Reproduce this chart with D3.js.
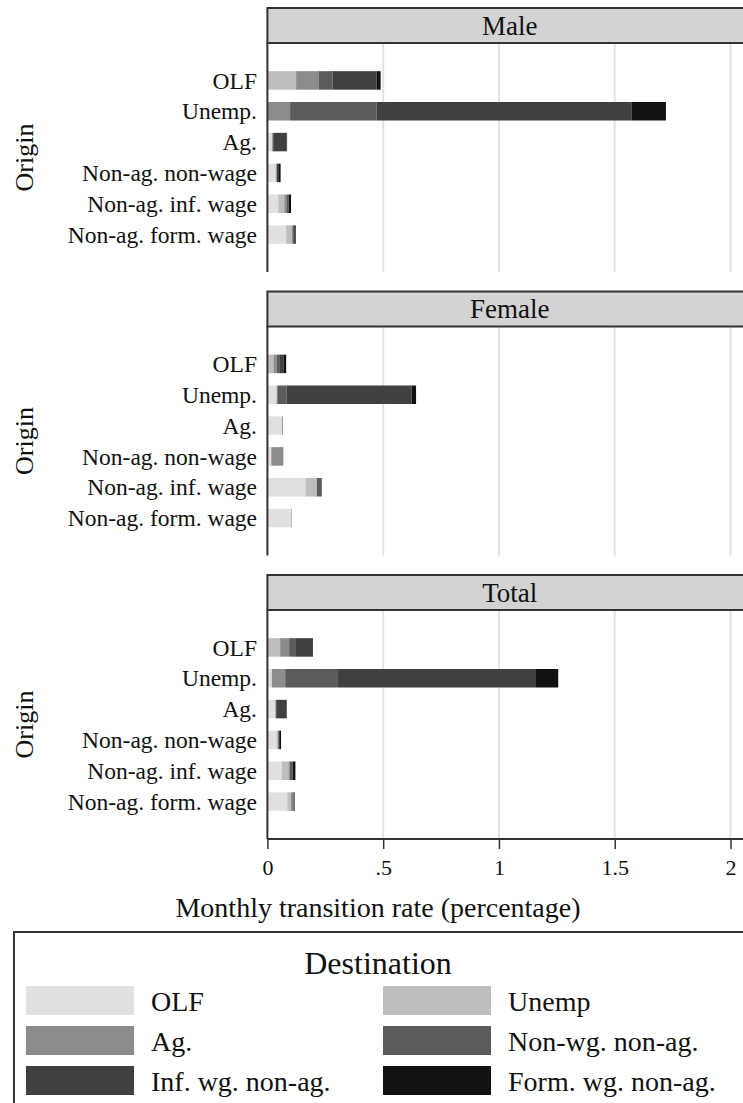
<!DOCTYPE html>
<html>
<head>
<meta charset="utf-8">
<script src="https://cdn.jsdelivr.net/npm/d3@7"></script>
<style>
  body { margin: 0; background: #fff; }
  svg text { font-family: "Liberation Serif", "Times New Roman", serif; fill: #111; }
</style>
</head>
<body>
<svg id="chart" width="743" height="1103"></svg>
<script>
// origins (rows) and destinations (stack order)
var origins = ["OLF", "Unemp.", "Ag.", "Non-ag. non-wage", "Non-ag. inf. wage", "Non-ag. form. wage"];
var destinations = ["OLF", "Unemp", "Ag.", "Non-wg. non-ag.", "Inf. wg. non-ag.", "Form. wg. non-ag."];
var panels = ["Male", "Female", "Total"];
var xTicks = [0, 0.5, 1, 1.5, 2];
var xTickLabels = ["0", ".5", "1", "1.5", "2"];

// monthly transition rates, one row per origin, one column per destination
var maleRates = [
  [0, 0.124, 0.097, 0.060, 0.191, 0.017],
  [0, 0, 0.098, 0.374, 1.100, 0.149],
  [0.018, 0.004, 0, 0.003, 0.058, 0.002],
  [0.035, 0.003, 0.003, 0, 0.006, 0.010],
  [0.047, 0.026, 0.009, 0.010, 0, 0.010],
  [0.081, 0.024, 0.006, 0.004, 0.008, 0]
];
var femaleRates = [
  [0, 0.026, 0.015, 0.010, 0.020, 0.010],
  [0.040, 0, 0.003, 0.040, 0.540, 0.019],
  [0.062, 0.002, 0, 0, 0.002, 0],
  [0.015, 0.002, 0.052, 0, 0, 0],
  [0.165, 0.047, 0.002, 0.020, 0, 0.001],
  [0.102, 0.002, 0, 0, 0.001, 0]
];
var totalRates = [
  [0, 0.055, 0.039, 0.026, 0.074, 0.003],
  [0.019, 0, 0.058, 0.228, 0.855, 0.096],
  [0.033, 0.003, 0, 0.002, 0.045, 0.001],
  [0.040, 0.004, 0.004, 0, 0.003, 0.008],
  [0.062, 0.029, 0.005, 0.014, 0, 0.011],
  [0.086, 0.016, 0.006, 0.005, 0.005, 0]
];
var panelRates = [maleRates, femaleRates, totalRates];

var pal = ["#e0e0e0", "#bebebe", "#8c8c8c", "#5b5b5b", "#404040", "#111111"];

var svg = d3.select("#chart");

var plotLeft = 267.4, plotRight = 752;
var headH = 35, bodyH = 229, gap = 19.5, top0 = 8;

var x = d3.scaleLinear().domain([0, 2]).range([plotLeft, 730.5]);
var color = d3.scaleOrdinal().domain(destinations).range(pal);

panels.forEach(function(name, p) {
  var ht = top0 + p * (headH + bodyH + gap);
  var bt = ht + headH;
  var g = svg.append("g");

  // grid lines
  g.selectAll("line.grid")
    .data(xTicks.slice(1))
    .enter().append("line")
    .attr("x1", d => x(d)).attr("x2", d => x(d))
    .attr("y1", bt).attr("y2", bt + bodyH)
    .attr("stroke", "#e2e2e2").attr("stroke-width", 2);

  var y = d3.scaleBand().domain(origins)
    .range([bt + 22, bt + bodyH - 22]).paddingInner(0.4).paddingOuter(0.2);

  var rows = panelRates[p].map(function(r, i) {
    var o = { origin: origins[i] };
    destinations.forEach((d, j) => o[d] = r[j]);
    return o;
  });
  var series = d3.stack().keys(destinations)(rows);

  g.selectAll("g.series")
    .data(series)
    .enter().append("g")
    .attr("fill", d => color(d.key))
    .selectAll("rect")
    .data(d => d)
    .enter().append("rect")
    .attr("x", d => x(d[0]))
    .attr("width", d => Math.max(0, x(d[1]) - x(d[0])))
    .attr("y", d => y(d.data.origin))
    .attr("height", y.bandwidth());

  // origin labels
  g.selectAll("text.orig")
    .data(origins)
    .enter().append("text")
    .attr("x", 257)
    .attr("y", d => y(d) + y.bandwidth() / 2)
    .attr("dy", "0.35em")
    .attr("text-anchor", "end")
    .style("font-size", "23.5px")
    .text(d => d);

  // header strip
  g.append("rect")
    .attr("x", plotLeft).attr("y", ht)
    .attr("width", plotRight - plotLeft).attr("height", headH)
    .attr("fill", "#d3d3d3").attr("stroke", "#333").attr("stroke-width", 2);
  g.append("text")
    .attr("x", (plotLeft + plotRight) / 2).attr("y", ht + headH / 2)
    .attr("dy", "0.35em").attr("text-anchor", "middle")
    .style("font-size", "27px")
    .text(name);

  // left axis line
  g.append("line")
    .attr("x1", plotLeft).attr("x2", plotLeft)
    .attr("y1", bt).attr("y2", bt + bodyH)
    .attr("stroke", "#333").attr("stroke-width", 2);

  // axis title
  g.append("text")
    .attr("transform", "translate(33," + (bt + bodyH / 2) + ") rotate(-90)")
    .attr("text-anchor", "middle")
    .style("font-size", "26px")
    .text("Origin");

  if (p === panels.length - 1) {
    var axis = d3.axisBottom(x).tickValues(xTicks)
      .tickFormat((d, i) => xTickLabels[i]).tickSize(10).tickSizeOuter(0);
    var ax = g.append("g")
      .attr("transform", "translate(0," + (bt + bodyH) + ")")
      .call(axis);
    ax.select(".domain").attr("stroke", "#333").attr("stroke-width", 2)
      .attr("d", "M" + plotLeft + ",0H" + plotRight);
    ax.selectAll(".tick line").attr("stroke", "#333").attr("stroke-width", 1.5);
    ax.selectAll(".tick text")
      .attr("y", 20)
      .style("font-size", "22px")
      .style("font-family", "Liberation Serif, serif")
      .attr("fill", "#111");

    svg.append("text")
      .attr("x", 378).attr("y", bt + bodyH + 78)
      .attr("text-anchor", "middle")
      .style("font-size", "28px")
      .text("Monthly transition rate (percentage)");
  }
});

// legend
var lg = svg.append("g");
lg.append("rect")
  .attr("x", 14).attr("y", 932).attr("width", 745).attr("height", 200)
  .attr("fill", "none").attr("stroke", "#333").attr("stroke-width", 2);
lg.append("text")
  .attr("x", 378).attr("y", 963).attr("dy", "0.35em")
  .attr("text-anchor", "middle")
  .style("font-size", "32px")
  .text("Destination");

var item = lg.selectAll("g.item")
  .data(destinations)
  .enter().append("g")
  .attr("transform", (d, i) => "translate(" + (i % 2 ? 383 : 26) + "," + (986 + Math.floor(i / 2) * 40) + ")");
item.append("rect")
  .attr("width", 108).attr("height", 29)
  .attr("fill", d => color(d));
item.append("text")
  .attr("x", 125).attr("y", 15).attr("dy", "0.35em")
  .style("font-size", "28px")
  .text(d => d);
</script>
</body>
</html>
